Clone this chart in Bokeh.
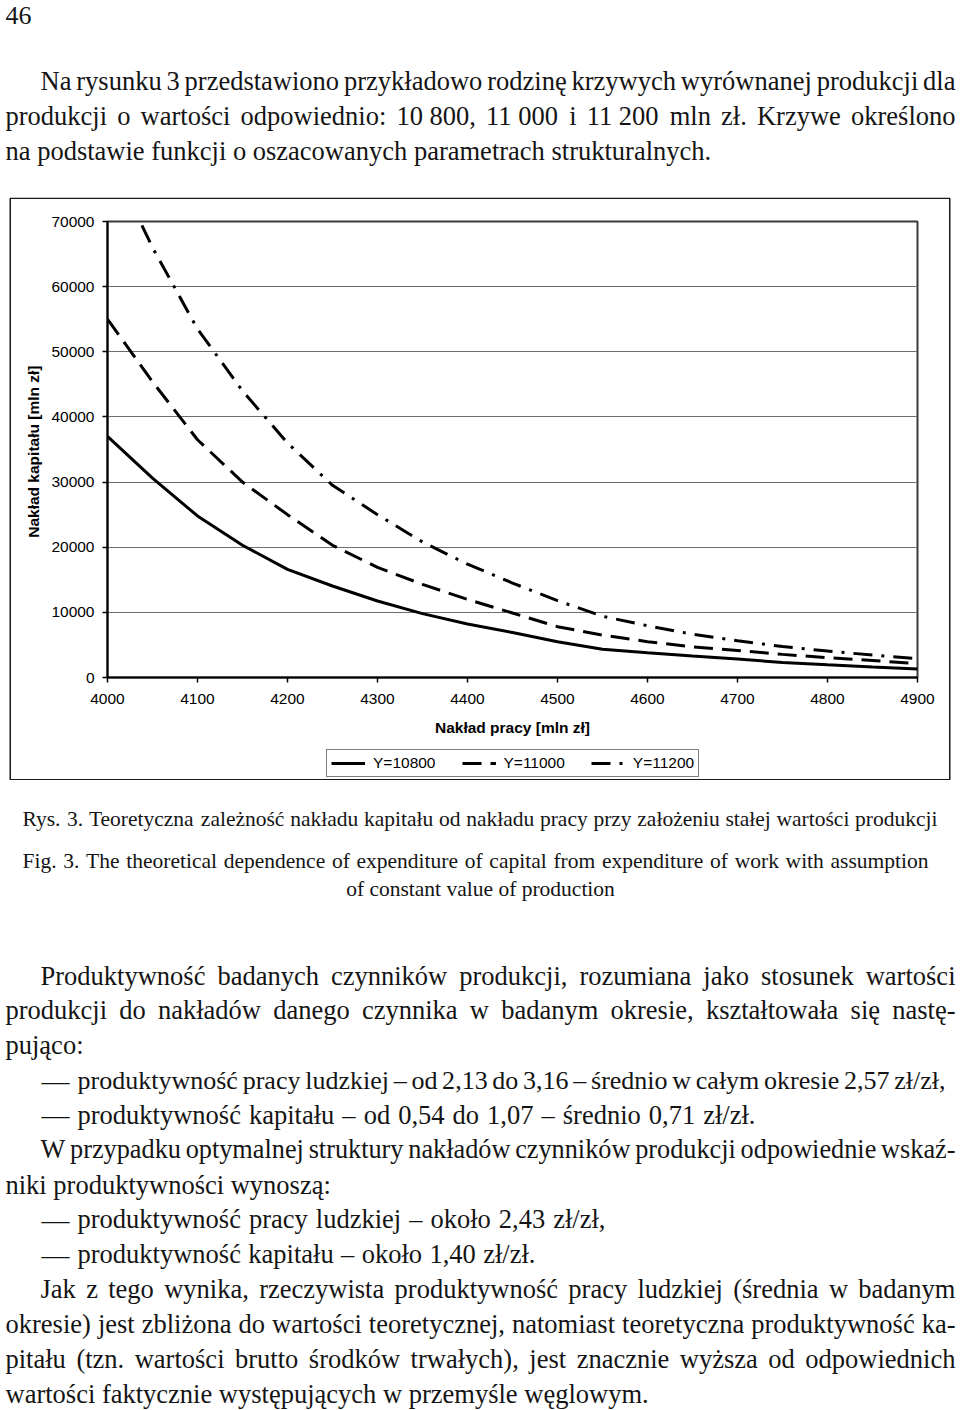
from bokeh.plotting import figure
from bokeh.models import (Range1d, FixedTicker, NumeralTickFormatter, Legend, LegendItem,
                          ColumnDataSource)
from bokeh.core.properties import value
from bokeh.embed import file_html
from bokeh.resources import INLINE

# ---------------- chart data ----------------
labor = [4000, 4050, 4100, 4150, 4200, 4250, 4300, 4350, 4400, 4450,
         4500, 4550, 4600, 4650, 4700, 4750, 4800, 4850, 4900]
capital_y10800 = [37000, 30600, 24800, 20300, 16600, 14050, 11750, 9800, 8200, 6900,
                  5500, 4350, 3800, 3300, 2850, 2300, 1950, 1620, 1300]
capital_y11000 = [55000, 45400, 36500, 30000, 25000, 20300, 16900, 14300, 12000, 9900,
                  7800, 6500, 5500, 4700, 4150, 3550, 3050, 2600, 2150]
capital_y11200 = [80500, 66000, 53500, 44000, 36000, 29500, 25000, 20800, 17400, 14500,
                  11800, 9400, 7950, 6650, 5650, 4750, 4050, 3450, 2900]
series_labels = ["Y=10800", "Y=11000", "Y=11200"]
series_dash = ["solid", "19 9", "19 9 3 9"]
x_ticks = [4000, 4100, 4200, 4300, 4400, 4500, 4600, 4700, 4800, 4900]
y_ticks = [0, 10000, 20000, 30000, 40000, 50000, 60000, 70000]
x_title = "Nakład pracy [mln zł]"
y_title = "Nakład kapitału  [mln zł]"

# ---------------- page text ----------------
page_number = "46"
intro_lines = [
    "Na rysunku 3 przedstawiono przykładowo rodzinę krzywych wyrównanej produkcji dla",
    "produkcji o wartości odpowiednio: 10\u00a0800, 11\u00a0000 i 11\u00a0200 mln zł. Krzywe określono",
    "na podstawie funkcji o oszacowanych parametrach strukturalnych.",
]
caption_lines = [
    "Rys. 3. Teoretyczna zależność nakładu kapitału od nakładu pracy przy założeniu stałej wartości produkcji",
    "Fig. 3. The theoretical dependence of expenditure of capital from expenditure of work with assumption",
    "of constant value of production",
]
body_lines = [
    "Produktywność badanych czynników produkcji, rozumiana jako stosunek wartości",
    "produkcji do nakładów danego czynnika w badanym okresie, kształtowała się nastę-",
    "pująco:",
    "produktywność pracy ludzkiej – od 2,13 do 3,16 – średnio w całym okresie 2,57 zł/zł,",
    "produktywność kapitału – od 0,54 do 1,07 – średnio 0,71 zł/zł.",
    "W przypadku optymalnej struktury nakładów czynników produkcji odpowiednie wskaź-",
    "niki produktywności wynoszą:",
    "produktywność pracy ludzkiej – około 2,43 zł/zł,",
    "produktywność kapitału – około 1,40 zł/zł.",
    "Jak z tego wynika, rzeczywista produktywność pracy ludzkiej (średnia w badanym",
    "okresie) jest zbliżona do wartości teoretycznej, natomiast teoretyczna produktywność ka-",
    "pitału (tzn. wartości brutto środków trwałych), jest znacznie wyższa od odpowiednich",
    "wartości faktycznie występujących w przemyśle węglowym.",
]
body_bullet = [False, False, False, True, True, False, False, True, True, False, False, False, False]

# approximate Times / Liberation Serif advance widths (1/1000 em)
W = {' ': 250, '\u00a0': 250, 'a': 444, 'b': 500, 'c': 444, 'd': 500, 'e': 444, 'f': 333, 'g': 500,
     'h': 500, 'i': 278, 'j': 278, 'k': 500, 'l': 278, 'm': 778, 'n': 500, 'o': 500, 'p': 500,
     'q': 500, 'r': 333, 's': 389, 't': 278, 'u': 500, 'v': 500, 'w': 722, 'x': 500, 'y': 500,
     'z': 444, 'ą': 444, 'ć': 444, 'ę': 444, 'ł': 278, 'ń': 500, 'ó': 500, 'ś': 389, 'ź': 444,
     'ż': 444, 'A': 722, 'B': 667, 'C': 667, 'D': 722, 'E': 611, 'F': 556, 'G': 722, 'H': 722,
     'I': 333, 'J': 389, 'K': 722, 'L': 611, 'M': 889, 'N': 722, 'O': 722, 'P': 556, 'Q': 722,
     'R': 667, 'S': 556, 'T': 611, 'U': 722, 'V': 722, 'W': 944, 'X': 722, 'Y': 722, 'Z': 611,
     ',': 250, '.': 250, ':': 278, ';': 278, '(': 333, ')': 333, '/': 278, '-': 333,
     '–': 500, '—': 1000}


def tw(s):
    return sum(W.get(ch, 500) for ch in s) / 1000.0


def place(rows, text, x0, x1, base, size, mode):
    if mode == "left":
        rows.append((text, x0, base, size))
        return
    if mode == "center":
        rows.append((text, (x0 + x1) / 2 - tw(text) * size / 2, base, size))
        return
    words = text.split(" ")
    wem = [tw(w) for w in words]
    avail = x1 - x0
    gap = (avail - sum(wem) * size) / (len(words) - 1)
    if gap < 0.18 * size:
        size = avail / (sum(wem) + 0.18 * (len(words) - 1))
        gap = 0.18 * size
    x = x0
    for w, e in zip(words, wem):
        rows.append((w, x, base, size))
        x += e * size + gap


def blank_figure(h, margin=None):
    f = figure(width=960, height=h, x_range=Range1d(0, 960), y_range=Range1d(h, 0),
               output_backend="svg", toolbar_location=None, x_axis_type=None, y_axis_type=None,
               min_border=0, margin=margin)
    f.outline_line_color = None
    return f


def text_figure(h, rows, off):
    f = blank_figure(h)
    f.background_fill_color = "white"
    f.border_fill_color = "white"
    src = ColumnDataSource(dict(x=[r[1] for r in rows], y=[r[2] - off for r in rows],
                                text=[r[0] for r in rows],
                                size=["%.2fpx" % r[3] for r in rows]))
    f.text(x="x", y="y", text="text", source=src, text_font=value("Liberation Serif"),
           text_font_size="size", text_align="left", text_baseline="alphabetic",
           text_color="#141414")
    return f


# ---- page geometry (pixels)
BX0, BX1, BY0, BY1 = 9, 950, 197, 780      # outer chart box
FL, FR, FT, FB = 107, 917, 221, 677        # plot area

# ---- top block (page y 0..197)
top_rows = []
place(top_rows, page_number, 5, None, 15, 26, "left")
place(top_rows, intro_lines[0], 40, 955, 80, 26.5, "justify")
place(top_rows, intro_lines[1], 5, 955, 115, 26.5, "justify")
place(top_rows, intro_lines[2], 5, None, 150, 26.5, "left")
top_fig = text_figure(BY0, top_rows, 0)

# ---- bottom block (page y 780..1410)
bot_rows = []
place(bot_rows, caption_lines[0], 22, 937, 818, 21.5, "justify")
place(bot_rows, caption_lines[1], 22, 928, 860, 21.5, "justify")
place(bot_rows, caption_lines[2], 0, 960, 888, 21.5, "center")
body_layout = [  # (x_start, x_end, mode)
    (40, 955, "justify"), (5, 955, "justify"), (5, None, "left"),
    (77, 945, "justify"), (77, 755, "justify"), (40, 955, "justify"),
    (5, None, "left"), (77, 605, "justify"), (77, 535, "justify"),
    (40, 955, "justify"), (5, 955, "justify"), (5, 955, "justify"), (5, None, "left"),
]
base0, step = 975, 34.85
for i, (line, bullet, (xs, xe, mode)) in enumerate(zip(body_lines, body_bullet, body_layout)):
    b = base0 + i * step
    if bullet:
        place(bot_rows, "—", 41, None, b, 28, "left")
    place(bot_rows, line, xs, xe, b, 26.5, mode)
bot_fig = text_figure(1410 - BY1, bot_rows, BY1)

# ---------------- chart (page y 197..780) ----------------
CH = BY1 - BY0
p = figure(width=960, height=CH, x_range=Range1d(4000, 4900),
           y_range=Range1d(0, 70000), output_backend="svg", toolbar_location=None,
           min_border_left=FL, min_border_right=960 - FR,
           min_border_top=FT - BY0, min_border_bottom=BY1 - FB)
p.background_fill_color = "white"
p.border_fill_color = "white"
p.outline_line_color = "#3a3a3a"
p.outline_line_width = 2

p.xaxis.ticker = FixedTicker(ticks=x_ticks)
p.yaxis.ticker = FixedTicker(ticks=y_ticks)
p.xaxis.formatter = NumeralTickFormatter(format="0")
p.yaxis.formatter = NumeralTickFormatter(format="0")
p.xaxis.axis_label = x_title
p.yaxis.axis_label = y_title
for ax in p.axis:
    ax.major_label_text_font = "Liberation Sans"
    ax.major_label_text_font_size = "15.5px"
    ax.major_label_text_color = "black"
    ax.axis_label_text_font = "Liberation Sans"
    ax.axis_label_text_font_size = "15.5px"
    ax.axis_label_text_font_style = "bold"
    ax.axis_label_text_color = "black"
    ax.axis_line_color = "black"
    ax.axis_line_width = 2
    ax.major_tick_line_color = "black"
    ax.major_tick_line_width = 1.5
    ax.major_tick_out = 5
    ax.major_tick_in = 0
    ax.minor_tick_out = 0
    ax.minor_tick_in = 0
p.xaxis.major_label_standoff = 11
p.xaxis.axis_label_standoff = 12
p.yaxis.major_label_standoff = 8
p.yaxis.axis_label_standoff = 6
p.xgrid.visible = False
p.ygrid.grid_line_color = "#6e6e6e"
p.ygrid.grid_line_width = 1.2

series = [capital_y10800, capital_y11000, capital_y11200]
for ys, dash in zip(series, series_dash):
    p.line(labor, ys, line_color="black", line_width=3, line_dash=dash)

# ---------------- transparent overlay over the chart: outer box + legend ----------------
ov = blank_figure(CH, margin=(-CH, 0, 0, 0))
ov.background_fill_alpha = 0
ov.border_fill_alpha = 0
ov.quad(left=BX0 + 0.75, right=BX1 - 0.75, top=0.75, bottom=CH - 0.75,
        fill_alpha=0, line_color="#1a1a1a", line_width=1.5)
# legend keys: same series and styles; their data lie outside this overlay's ranges
proxies = [ov.line(labor, ys, line_color="black", line_width=3, line_dash=d)
           for ys, d in zip(series, series_dash)]
legend = Legend(items=[LegendItem(label=lab, renderers=[r])
                       for lab, r in zip(series_labels, proxies)],
                orientation="horizontal", location=(326, BY1 - 777),
                glyph_width=34, glyph_height=16, label_height=16, label_standoff=8,
                spacing=26, padding=4, margin=0,
                border_line_color="black", border_line_width=1.5,
                background_fill_color="white", background_fill_alpha=1,
                label_text_font="Liberation Sans", label_text_font_size="15.5px",
                label_text_color="black")
ov.add_layout(legend)

open("out.html", "w").write(file_html([top_fig, p, ov, bot_fig], INLINE))
